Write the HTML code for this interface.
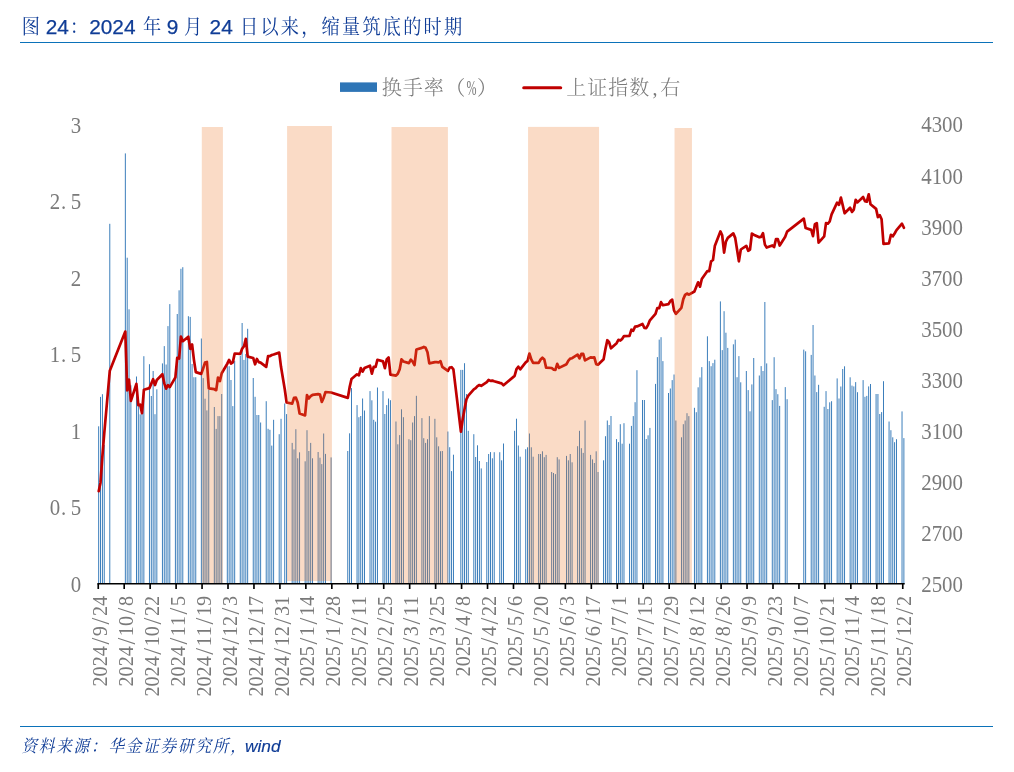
<!DOCTYPE html>
<html lang="zh-CN">
<head>
<meta charset="utf-8">
<title>图 24：2024 年 9 月 24 日以来，缩量筑底的时期</title>
<style>
html,body{margin:0;padding:0;background:#fff;}
body{width:1014px;height:772px;position:relative;overflow:hidden;font-family:"Liberation Sans","Noto Sans CJK SC",sans-serif;}
svg{display:block;}
</style>
</head>
<body>
<svg width="1014" height="772" viewBox="0 0 1014 772" style="position:absolute;left:0;top:0">
<g fill="#2e75b6">
<rect x="98.21" y="426.3" width="0.93" height="157.3"/>
<rect x="100.07" y="396.9" width="0.93" height="186.7"/>
<rect x="101.92" y="394.2" width="0.93" height="189.4"/>
<rect x="103.77" y="445.0" width="0.93" height="138.6"/>
<rect x="109.33" y="223.8" width="0.93" height="359.8"/>
<rect x="124.86" y="153.4" width="0.93" height="430.2"/>
<rect x="126.72" y="257.7" width="0.93" height="325.9"/>
<rect x="128.57" y="309.3" width="0.93" height="274.3"/>
<rect x="130.42" y="385.3" width="0.93" height="198.3"/>
<rect x="135.99" y="376.5" width="0.93" height="207.1"/>
<rect x="137.84" y="397.8" width="0.93" height="185.8"/>
<rect x="139.69" y="414.3" width="0.93" height="169.3"/>
<rect x="141.55" y="413.5" width="0.93" height="170.1"/>
<rect x="143.40" y="356.2" width="0.93" height="227.4"/>
<rect x="148.96" y="364.2" width="0.93" height="219.4"/>
<rect x="150.82" y="396.0" width="0.93" height="187.6"/>
<rect x="152.67" y="371.0" width="0.93" height="212.6"/>
<rect x="154.52" y="414.2" width="0.93" height="169.4"/>
<rect x="156.38" y="389.3" width="0.93" height="194.3"/>
<rect x="161.94" y="363.4" width="0.93" height="220.2"/>
<rect x="163.79" y="346.1" width="0.93" height="237.5"/>
<rect x="165.65" y="364.5" width="0.93" height="219.1"/>
<rect x="167.50" y="326.1" width="0.93" height="257.5"/>
<rect x="169.35" y="304.1" width="0.93" height="279.5"/>
<rect x="174.91" y="372.0" width="0.93" height="211.6"/>
<rect x="176.77" y="314.0" width="0.93" height="269.6"/>
<rect x="178.62" y="290.3" width="0.93" height="293.3"/>
<rect x="180.47" y="268.8" width="0.93" height="314.8"/>
<rect x="182.33" y="267.2" width="0.93" height="316.4"/>
<rect x="187.89" y="316.2" width="0.93" height="267.4"/>
<rect x="189.74" y="316.9" width="0.93" height="266.7"/>
<rect x="191.60" y="364.0" width="0.93" height="219.6"/>
<rect x="193.45" y="377.2" width="0.93" height="206.4"/>
<rect x="195.30" y="377.2" width="0.93" height="206.4"/>
<rect x="200.87" y="338.5" width="0.93" height="245.1"/>
<rect x="202.72" y="378.1" width="0.93" height="205.5"/>
<rect x="204.57" y="398.7" width="0.93" height="184.9"/>
<rect x="206.43" y="410.4" width="0.93" height="173.2"/>
<rect x="208.28" y="390.0" width="0.93" height="193.6"/>
<rect x="213.84" y="407.0" width="0.93" height="176.6"/>
<rect x="215.69" y="428.9" width="0.93" height="154.7"/>
<rect x="217.55" y="416.1" width="0.93" height="167.5"/>
<rect x="219.40" y="416.1" width="0.93" height="167.5"/>
<rect x="221.26" y="394.0" width="0.93" height="189.6"/>
<rect x="226.82" y="366.2" width="0.93" height="217.4"/>
<rect x="228.67" y="366.2" width="0.93" height="217.4"/>
<rect x="230.52" y="380.0" width="0.93" height="203.6"/>
<rect x="232.38" y="406.1" width="0.93" height="177.5"/>
<rect x="234.23" y="360.8" width="0.93" height="222.8"/>
<rect x="239.79" y="355.9" width="0.93" height="227.7"/>
<rect x="241.65" y="323.0" width="0.93" height="260.6"/>
<rect x="243.50" y="359.9" width="0.93" height="223.7"/>
<rect x="245.35" y="353.9" width="0.93" height="229.7"/>
<rect x="247.21" y="328.8" width="0.93" height="254.8"/>
<rect x="252.77" y="378.0" width="0.93" height="205.6"/>
<rect x="254.62" y="396.8" width="0.93" height="186.8"/>
<rect x="256.48" y="415.0" width="0.93" height="168.6"/>
<rect x="258.33" y="415.0" width="0.93" height="168.6"/>
<rect x="260.18" y="422.5" width="0.93" height="161.1"/>
<rect x="265.74" y="401.2" width="0.93" height="182.4"/>
<rect x="267.60" y="428.8" width="0.93" height="154.8"/>
<rect x="269.45" y="429.8" width="0.93" height="153.8"/>
<rect x="271.31" y="445.6" width="0.93" height="138.0"/>
<rect x="273.16" y="419.8" width="0.93" height="163.8"/>
<rect x="278.72" y="434.2" width="0.93" height="149.4"/>
<rect x="280.57" y="418.8" width="0.93" height="164.8"/>
<rect x="284.28" y="403.5" width="0.93" height="180.1"/>
<rect x="286.14" y="414.1" width="0.93" height="169.5"/>
<rect x="291.70" y="442.9" width="0.93" height="140.7"/>
<rect x="293.55" y="449.4" width="0.93" height="134.2"/>
<rect x="295.40" y="429.2" width="0.93" height="154.4"/>
<rect x="297.26" y="458.3" width="0.93" height="125.3"/>
<rect x="299.11" y="452.3" width="0.93" height="131.3"/>
<rect x="304.67" y="461.3" width="0.93" height="122.3"/>
<rect x="306.53" y="430.2" width="0.93" height="153.4"/>
<rect x="308.38" y="451.0" width="0.93" height="132.6"/>
<rect x="310.23" y="442.9" width="0.93" height="140.7"/>
<rect x="312.09" y="458.3" width="0.93" height="125.3"/>
<rect x="317.65" y="452.0" width="0.93" height="131.6"/>
<rect x="319.50" y="457.7" width="0.93" height="125.9"/>
<rect x="321.36" y="464.1" width="0.93" height="119.5"/>
<rect x="323.21" y="433.5" width="0.93" height="150.1"/>
<rect x="325.06" y="453.9" width="0.93" height="129.7"/>
<rect x="330.62" y="457.4" width="0.93" height="126.2"/>
<rect x="347.31" y="451.0" width="0.93" height="132.6"/>
<rect x="349.16" y="433.3" width="0.93" height="150.3"/>
<rect x="351.02" y="388.1" width="0.93" height="195.5"/>
<rect x="356.58" y="405.1" width="0.93" height="178.5"/>
<rect x="358.43" y="417.2" width="0.93" height="166.4"/>
<rect x="360.28" y="416.0" width="0.93" height="167.6"/>
<rect x="362.14" y="398.5" width="0.93" height="185.1"/>
<rect x="363.99" y="410.5" width="0.93" height="173.1"/>
<rect x="369.55" y="391.1" width="0.93" height="192.5"/>
<rect x="371.41" y="400.3" width="0.93" height="183.3"/>
<rect x="373.26" y="419.8" width="0.93" height="163.8"/>
<rect x="375.11" y="421.7" width="0.93" height="161.9"/>
<rect x="376.97" y="387.5" width="0.93" height="196.1"/>
<rect x="382.53" y="391.1" width="0.93" height="192.5"/>
<rect x="384.38" y="414.0" width="0.93" height="169.6"/>
<rect x="386.24" y="405.1" width="0.93" height="178.5"/>
<rect x="388.09" y="398.5" width="0.93" height="185.1"/>
<rect x="389.94" y="400.2" width="0.93" height="183.4"/>
<rect x="395.50" y="421.5" width="0.93" height="162.1"/>
<rect x="397.36" y="444.3" width="0.93" height="139.3"/>
<rect x="399.21" y="435.1" width="0.93" height="148.5"/>
<rect x="401.06" y="409.3" width="0.93" height="174.3"/>
<rect x="402.92" y="417.2" width="0.93" height="166.4"/>
<rect x="408.48" y="439.2" width="0.93" height="144.4"/>
<rect x="410.33" y="440.2" width="0.93" height="143.4"/>
<rect x="412.19" y="422.5" width="0.93" height="161.1"/>
<rect x="414.04" y="416.1" width="0.93" height="167.5"/>
<rect x="415.89" y="395.8" width="0.93" height="187.8"/>
<rect x="421.46" y="418.1" width="0.93" height="165.5"/>
<rect x="423.31" y="438.2" width="0.93" height="145.4"/>
<rect x="425.16" y="442.9" width="0.93" height="140.7"/>
<rect x="427.02" y="439.2" width="0.93" height="144.4"/>
<rect x="428.87" y="416.1" width="0.93" height="167.5"/>
<rect x="434.43" y="418.8" width="0.93" height="164.8"/>
<rect x="436.29" y="437.3" width="0.93" height="146.3"/>
<rect x="438.14" y="446.3" width="0.93" height="137.3"/>
<rect x="439.99" y="451.2" width="0.93" height="132.4"/>
<rect x="441.85" y="451.0" width="0.93" height="132.6"/>
<rect x="447.41" y="431.5" width="0.93" height="152.1"/>
<rect x="449.26" y="447.2" width="0.93" height="136.4"/>
<rect x="451.11" y="471.1" width="0.93" height="112.5"/>
<rect x="452.97" y="454.7" width="0.93" height="128.9"/>
<rect x="460.38" y="369.9" width="0.93" height="213.7"/>
<rect x="462.24" y="369.9" width="0.93" height="213.7"/>
<rect x="464.09" y="363.2" width="0.93" height="220.4"/>
<rect x="465.94" y="394.0" width="0.93" height="189.6"/>
<rect x="467.80" y="430.8" width="0.93" height="152.8"/>
<rect x="473.36" y="434.2" width="0.93" height="149.4"/>
<rect x="475.21" y="457.0" width="0.93" height="126.6"/>
<rect x="477.07" y="445.3" width="0.93" height="138.3"/>
<rect x="478.92" y="461.0" width="0.93" height="122.6"/>
<rect x="480.77" y="468.4" width="0.93" height="115.2"/>
<rect x="486.34" y="462.0" width="0.93" height="121.6"/>
<rect x="488.19" y="454.0" width="0.93" height="129.6"/>
<rect x="490.04" y="452.1" width="0.93" height="131.5"/>
<rect x="491.90" y="458.3" width="0.93" height="125.3"/>
<rect x="493.75" y="452.2" width="0.93" height="131.4"/>
<rect x="499.31" y="452.2" width="0.93" height="131.4"/>
<rect x="501.16" y="460.3" width="0.93" height="123.3"/>
<rect x="503.02" y="443.5" width="0.93" height="140.1"/>
<rect x="514.14" y="430.8" width="0.93" height="152.8"/>
<rect x="515.99" y="418.7" width="0.93" height="164.9"/>
<rect x="517.85" y="445.5" width="0.93" height="138.1"/>
<rect x="519.70" y="456.7" width="0.93" height="126.9"/>
<rect x="525.26" y="449.2" width="0.93" height="134.4"/>
<rect x="527.12" y="447.3" width="0.93" height="136.3"/>
<rect x="528.97" y="433.5" width="0.93" height="150.1"/>
<rect x="530.82" y="447.3" width="0.93" height="136.3"/>
<rect x="532.68" y="456.7" width="0.93" height="126.9"/>
<rect x="538.24" y="454.0" width="0.93" height="129.6"/>
<rect x="540.09" y="454.0" width="0.93" height="129.6"/>
<rect x="541.95" y="451.3" width="0.93" height="132.3"/>
<rect x="543.80" y="457.2" width="0.93" height="126.4"/>
<rect x="545.65" y="454.9" width="0.93" height="128.7"/>
<rect x="551.21" y="472.0" width="0.93" height="111.6"/>
<rect x="553.07" y="473.0" width="0.93" height="110.6"/>
<rect x="554.92" y="474.1" width="0.93" height="109.5"/>
<rect x="556.78" y="457.2" width="0.93" height="126.4"/>
<rect x="558.63" y="459.4" width="0.93" height="124.2"/>
<rect x="566.04" y="455.9" width="0.93" height="127.7"/>
<rect x="567.90" y="460.3" width="0.93" height="123.3"/>
<rect x="569.75" y="454.0" width="0.93" height="129.6"/>
<rect x="571.61" y="462.3" width="0.93" height="121.3"/>
<rect x="577.17" y="446.2" width="0.93" height="137.4"/>
<rect x="579.02" y="430.8" width="0.93" height="152.8"/>
<rect x="580.87" y="448.2" width="0.93" height="135.4"/>
<rect x="582.73" y="452.9" width="0.93" height="130.7"/>
<rect x="584.58" y="420.5" width="0.93" height="163.1"/>
<rect x="590.14" y="454.9" width="0.93" height="128.7"/>
<rect x="592.00" y="459.4" width="0.93" height="124.2"/>
<rect x="593.85" y="463.0" width="0.93" height="120.6"/>
<rect x="595.70" y="451.3" width="0.93" height="132.3"/>
<rect x="597.56" y="472.0" width="0.93" height="111.6"/>
<rect x="603.12" y="460.3" width="0.93" height="123.3"/>
<rect x="604.97" y="436.2" width="0.93" height="147.4"/>
<rect x="606.83" y="420.5" width="0.93" height="163.1"/>
<rect x="608.68" y="425.0" width="0.93" height="158.6"/>
<rect x="610.53" y="416.0" width="0.93" height="167.6"/>
<rect x="616.09" y="439.1" width="0.93" height="144.5"/>
<rect x="617.95" y="442.1" width="0.93" height="141.5"/>
<rect x="619.80" y="424.2" width="0.93" height="159.4"/>
<rect x="621.66" y="443.7" width="0.93" height="139.9"/>
<rect x="623.51" y="423.2" width="0.93" height="160.4"/>
<rect x="629.07" y="443.7" width="0.93" height="139.9"/>
<rect x="630.92" y="425.9" width="0.93" height="157.7"/>
<rect x="632.78" y="416.1" width="0.93" height="167.5"/>
<rect x="634.63" y="402.2" width="0.93" height="181.4"/>
<rect x="636.48" y="370.2" width="0.93" height="213.4"/>
<rect x="642.05" y="400.0" width="0.93" height="183.6"/>
<rect x="643.90" y="400.0" width="0.93" height="183.6"/>
<rect x="645.75" y="439.0" width="0.93" height="144.6"/>
<rect x="647.61" y="435.3" width="0.93" height="148.3"/>
<rect x="649.46" y="427.9" width="0.93" height="155.7"/>
<rect x="655.02" y="383.9" width="0.93" height="199.7"/>
<rect x="656.88" y="357.1" width="0.93" height="226.5"/>
<rect x="658.73" y="339.6" width="0.93" height="244.0"/>
<rect x="660.58" y="337.2" width="0.93" height="246.4"/>
<rect x="662.44" y="361.1" width="0.93" height="222.5"/>
<rect x="668.00" y="393.0" width="0.93" height="190.6"/>
<rect x="669.85" y="388.5" width="0.93" height="195.1"/>
<rect x="671.71" y="380.1" width="0.93" height="203.5"/>
<rect x="673.56" y="374.5" width="0.93" height="209.1"/>
<rect x="675.41" y="420.5" width="0.93" height="163.1"/>
<rect x="680.97" y="437.3" width="0.93" height="146.3"/>
<rect x="682.83" y="424.2" width="0.93" height="159.4"/>
<rect x="684.68" y="420.5" width="0.93" height="163.1"/>
<rect x="686.53" y="413.2" width="0.93" height="170.4"/>
<rect x="688.39" y="416.1" width="0.93" height="167.5"/>
<rect x="693.95" y="407.8" width="0.93" height="175.8"/>
<rect x="695.80" y="412.2" width="0.93" height="171.4"/>
<rect x="697.66" y="387.3" width="0.93" height="196.3"/>
<rect x="699.51" y="377.4" width="0.93" height="206.2"/>
<rect x="701.36" y="367.1" width="0.93" height="216.5"/>
<rect x="706.93" y="336.3" width="0.93" height="247.3"/>
<rect x="708.78" y="361.1" width="0.93" height="222.5"/>
<rect x="710.63" y="366.2" width="0.93" height="217.4"/>
<rect x="712.49" y="363.1" width="0.93" height="220.5"/>
<rect x="714.34" y="359.7" width="0.93" height="223.9"/>
<rect x="719.90" y="301.4" width="0.93" height="282.2"/>
<rect x="721.76" y="350.1" width="0.93" height="233.5"/>
<rect x="723.61" y="311.2" width="0.93" height="272.4"/>
<rect x="725.46" y="332.7" width="0.93" height="250.9"/>
<rect x="727.32" y="347.9" width="0.93" height="235.7"/>
<rect x="732.88" y="344.3" width="0.93" height="239.3"/>
<rect x="734.73" y="339.6" width="0.93" height="244.0"/>
<rect x="736.58" y="377.2" width="0.93" height="206.4"/>
<rect x="738.44" y="356.1" width="0.93" height="227.5"/>
<rect x="740.29" y="382.3" width="0.93" height="201.3"/>
<rect x="745.85" y="371.0" width="0.93" height="212.6"/>
<rect x="747.71" y="390.1" width="0.93" height="193.5"/>
<rect x="749.56" y="411.3" width="0.93" height="172.3"/>
<rect x="751.41" y="384.4" width="0.93" height="199.2"/>
<rect x="753.27" y="358.0" width="0.93" height="225.6"/>
<rect x="758.83" y="375.5" width="0.93" height="208.1"/>
<rect x="760.68" y="366.1" width="0.93" height="217.5"/>
<rect x="762.54" y="371.0" width="0.93" height="212.6"/>
<rect x="764.39" y="302.0" width="0.93" height="281.6"/>
<rect x="766.24" y="363.4" width="0.93" height="220.2"/>
<rect x="771.80" y="400.1" width="0.93" height="183.5"/>
<rect x="773.66" y="357.2" width="0.93" height="226.4"/>
<rect x="775.51" y="389.1" width="0.93" height="194.5"/>
<rect x="777.37" y="394.2" width="0.93" height="189.4"/>
<rect x="779.22" y="405.9" width="0.93" height="177.7"/>
<rect x="784.78" y="387.1" width="0.93" height="196.5"/>
<rect x="786.63" y="399.2" width="0.93" height="184.4"/>
<rect x="803.32" y="349.6" width="0.93" height="234.0"/>
<rect x="805.17" y="351.3" width="0.93" height="232.3"/>
<rect x="810.73" y="354.9" width="0.93" height="228.7"/>
<rect x="812.59" y="325.0" width="0.93" height="258.6"/>
<rect x="814.44" y="375.5" width="0.93" height="208.1"/>
<rect x="816.29" y="392.1" width="0.93" height="191.5"/>
<rect x="818.15" y="384.8" width="0.93" height="198.8"/>
<rect x="823.71" y="406.8" width="0.93" height="176.8"/>
<rect x="825.56" y="391.1" width="0.93" height="192.5"/>
<rect x="827.42" y="409.0" width="0.93" height="174.6"/>
<rect x="829.27" y="402.3" width="0.93" height="181.3"/>
<rect x="831.12" y="401.2" width="0.93" height="182.4"/>
<rect x="836.68" y="378.4" width="0.93" height="205.2"/>
<rect x="838.54" y="398.5" width="0.93" height="185.1"/>
<rect x="840.39" y="386.5" width="0.93" height="197.1"/>
<rect x="842.25" y="369.0" width="0.93" height="214.6"/>
<rect x="844.10" y="366.3" width="0.93" height="217.3"/>
<rect x="849.66" y="377.3" width="0.93" height="206.3"/>
<rect x="851.51" y="385.6" width="0.93" height="198.0"/>
<rect x="853.37" y="386.4" width="0.93" height="197.2"/>
<rect x="855.22" y="382.1" width="0.93" height="201.5"/>
<rect x="857.08" y="392.2" width="0.93" height="191.4"/>
<rect x="862.64" y="380.1" width="0.93" height="203.5"/>
<rect x="864.49" y="396.8" width="0.93" height="186.8"/>
<rect x="866.34" y="395.9" width="0.93" height="187.7"/>
<rect x="868.20" y="386.4" width="0.93" height="197.2"/>
<rect x="870.05" y="384.0" width="0.93" height="199.6"/>
<rect x="875.61" y="394.0" width="0.93" height="189.6"/>
<rect x="877.47" y="394.0" width="0.93" height="189.6"/>
<rect x="879.32" y="414.0" width="0.93" height="169.6"/>
<rect x="881.17" y="412.1" width="0.93" height="171.5"/>
<rect x="883.03" y="381.2" width="0.93" height="202.4"/>
<rect x="888.59" y="421.5" width="0.93" height="162.1"/>
<rect x="890.44" y="430.2" width="0.93" height="153.4"/>
<rect x="892.30" y="437.3" width="0.93" height="146.3"/>
<rect x="894.15" y="442.2" width="0.93" height="141.4"/>
<rect x="896.00" y="439.2" width="0.93" height="144.4"/>
<rect x="901.56" y="411.4" width="0.93" height="172.2"/>
<rect x="903.42" y="438.1" width="0.93" height="145.5"/>
</g>
<g stroke="#000" stroke-width="1.65" fill="none">
<line x1="97.35" y1="583.75" x2="904.7" y2="583.75"/>
<line x1="98.25" y1="583.75" x2="98.25" y2="589.0"/>
<line x1="124.20" y1="583.75" x2="124.20" y2="589.0"/>
<line x1="150.15" y1="583.75" x2="150.15" y2="589.0"/>
<line x1="176.11" y1="583.75" x2="176.11" y2="589.0"/>
<line x1="202.06" y1="583.75" x2="202.06" y2="589.0"/>
<line x1="228.01" y1="583.75" x2="228.01" y2="589.0"/>
<line x1="253.96" y1="583.75" x2="253.96" y2="589.0"/>
<line x1="279.91" y1="583.75" x2="279.91" y2="589.0"/>
<line x1="305.86" y1="583.75" x2="305.86" y2="589.0"/>
<line x1="331.82" y1="583.75" x2="331.82" y2="589.0"/>
<line x1="357.77" y1="583.75" x2="357.77" y2="589.0"/>
<line x1="383.72" y1="583.75" x2="383.72" y2="589.0"/>
<line x1="409.67" y1="583.75" x2="409.67" y2="589.0"/>
<line x1="435.62" y1="583.75" x2="435.62" y2="589.0"/>
<line x1="461.58" y1="583.75" x2="461.58" y2="589.0"/>
<line x1="487.53" y1="583.75" x2="487.53" y2="589.0"/>
<line x1="513.48" y1="583.75" x2="513.48" y2="589.0"/>
<line x1="539.43" y1="583.75" x2="539.43" y2="589.0"/>
<line x1="565.38" y1="583.75" x2="565.38" y2="589.0"/>
<line x1="591.33" y1="583.75" x2="591.33" y2="589.0"/>
<line x1="617.29" y1="583.75" x2="617.29" y2="589.0"/>
<line x1="643.24" y1="583.75" x2="643.24" y2="589.0"/>
<line x1="669.19" y1="583.75" x2="669.19" y2="589.0"/>
<line x1="695.14" y1="583.75" x2="695.14" y2="589.0"/>
<line x1="721.09" y1="583.75" x2="721.09" y2="589.0"/>
<line x1="747.04" y1="583.75" x2="747.04" y2="589.0"/>
<line x1="773.00" y1="583.75" x2="773.00" y2="589.0"/>
<line x1="798.95" y1="583.75" x2="798.95" y2="589.0"/>
<line x1="824.90" y1="583.75" x2="824.90" y2="589.0"/>
<line x1="850.85" y1="583.75" x2="850.85" y2="589.0"/>
<line x1="876.80" y1="583.75" x2="876.80" y2="589.0"/>
<line x1="902.76" y1="583.75" x2="902.76" y2="589.0"/>
</g>
<polyline points="98.7,491.2 100.5,482.7 102.4,456.1 104.2,434.0 109.8,370.7 125.3,331.6 127.2,390.4 129.0,379.5 130.9,400.9 136.4,383.9 138.3,405.1 140.2,404.7 142.0,413.2 143.9,389.7 149.4,388.1 151.3,383.6 153.1,379.2 155.0,385.0 156.8,380.0 162.4,374.3 164.3,383.4 166.1,388.6 168.0,385.1 169.8,387.1 175.4,377.4 177.2,357.8 179.1,358.6 180.9,336.5 182.8,341.2 188.3,336.7 190.2,348.9 192.1,344.5 193.9,359.6 195.8,372.1 201.3,373.9 203.2,368.2 205.0,362.6 206.9,362.0 208.8,388.3 214.3,389.2 216.2,390.2 218.0,377.5 219.9,381.1 221.7,373.2 227.3,363.7 229.1,359.9 231.0,363.5 232.8,362.4 234.7,353.5 240.3,353.9 242.1,348.7 244.0,346.2 245.8,338.8 247.7,356.6 253.2,358.0 255.1,364.3 256.9,359.0 258.8,362.1 260.6,362.6 266.2,366.9 268.1,356.1 269.9,356.2 271.8,355.0 273.6,354.5 279.2,352.6 281.0,366.8 284.8,389.5 286.6,402.5 292.2,403.6 294.0,397.9 295.9,397.7 297.7,402.5 299.6,413.4 305.1,415.4 307.0,395.0 308.8,398.5 310.7,396.2 312.6,394.8 318.1,394.1 320.0,394.6 321.8,401.9 323.7,397.7 325.5,392.0 331.1,392.5 347.8,397.9 349.6,387.4 351.5,379.0 357.0,374.3 358.9,375.4 360.8,368.1 362.6,371.7 364.5,368.1 370.0,365.7 371.9,373.7 373.7,366.8 375.6,367.0 377.4,359.8 383.0,361.4 384.9,368.2 386.7,359.5 388.6,357.5 390.4,374.6 396.0,375.6 397.8,373.8 399.7,369.3 401.5,359.3 403.4,361.5 408.9,363.1 410.8,359.6 412.6,361.6 414.5,365.0 416.4,349.5 421.9,347.9 423.8,346.9 425.6,347.8 427.5,352.2 429.3,363.4 434.9,362.1 436.8,362.1 438.6,362.5 440.5,361.2 442.3,366.9 447.9,370.9 449.7,367.6 451.6,367.2 453.4,369.3 460.9,431.7 462.7,419.3 464.6,408.8 466.4,399.4 468.3,395.7 473.8,389.4 475.7,388.2 477.5,386.1 479.4,385.0 481.2,385.9 486.8,382.1 488.6,380.0 490.5,380.9 492.4,380.6 494.2,381.2 499.8,382.9 501.6,383.4 503.5,385.3 514.6,375.9 516.5,369.1 518.3,366.7 520.2,369.3 525.7,362.3 527.6,360.9 529.4,353.5 531.3,359.4 533.1,362.8 538.7,362.8 540.6,359.5 542.4,357.7 544.3,359.5 546.1,367.6 551.7,368.0 553.5,369.6 555.4,369.8 557.2,363.8 559.1,367.9 566.5,364.2 568.4,360.6 570.2,358.6 572.1,358.2 577.6,354.6 579.5,358.4 581.3,353.9 583.2,353.8 585.0,360.4 590.6,357.4 592.5,357.7 594.3,357.4 596.2,364.1 598.0,364.7 603.6,359.2 605.4,349.3 607.3,340.2 609.1,342.2 611.0,348.3 616.6,343.2 618.4,339.8 620.3,340.6 622.1,338.9 624.0,336.1 629.5,335.9 631.4,329.7 633.2,330.8 635.1,326.6 637.0,326.4 642.5,324.0 644.4,327.8 646.2,328.1 648.1,324.8 649.9,320.3 655.5,313.8 657.3,308.2 659.2,308.1 661.0,302.1 662.9,305.2 668.5,304.1 670.3,301.1 672.2,299.6 674.0,310.4 675.9,313.8 681.4,307.8 683.3,299.1 685.1,294.9 687.0,293.5 688.9,294.6 694.4,291.5 696.3,286.8 698.1,282.3 700.0,286.7 701.8,279.0 707.4,271.0 709.2,271.2 711.1,261.3 713.0,260.0 714.8,246.1 720.4,231.4 722.2,235.3 724.1,252.6 725.9,241.6 727.8,237.9 733.3,233.4 735.2,237.9 737.0,249.2 738.9,261.4 740.8,249.5 746.3,245.8 748.2,250.8 750.0,249.6 751.9,233.5 753.7,234.7 759.3,237.3 761.1,236.9 763.0,233.2 764.9,244.6 766.7,247.6 772.3,245.4 774.1,247.1 776.0,239.0 777.8,239.1 779.7,245.5 785.2,236.8 787.1,231.6 803.8,218.6 805.6,228.0 811.2,229.9 813.0,236.1 814.9,224.1 816.8,223.1 818.6,242.6 824.2,236.4 826.0,223.1 827.9,223.7 829.7,221.5 831.6,214.4 837.1,202.6 839.0,204.8 840.9,197.6 842.7,205.1 844.6,213.3 850.1,207.7 852.0,211.9 853.8,209.6 855.7,199.8 857.5,202.4 863.1,197.0 865.0,201.1 866.8,201.7 868.7,194.3 870.5,204.2 876.1,208.9 877.9,217.1 879.8,215.3 881.6,219.3 883.5,243.8 889.0,243.3 890.9,234.8 892.8,236.3 894.6,233.5 896.5,230.1 902.0,223.7 903.9,227.8" fill="none" stroke="#c00000" stroke-width="2.7" stroke-linejoin="round" stroke-linecap="round"/>
<g fill="#ed7d31" fill-opacity="0.28">
<rect x="201.8" y="127.0" width="21.1" height="456.0"/>
<rect x="287.1" y="126.0" width="44.8" height="455.0"/>
<rect x="391.5" y="127.0" width="56.4" height="456.0"/>
<rect x="528.05" y="126.9" width="71.0" height="456.1"/>
<rect x="674.55" y="128.0" width="17.4" height="455.0"/>
</g>
<g fill="#7a7a7a" font-family="'Liberation Serif', 'Noto Serif CJK SC', serif" font-weight="300">
<text transform="translate(70.66,592.0) scale(0.9239,1)" font-size="22.6"><tspan x="0.00" y="0">0</tspan></text>
<text transform="translate(49.78,515.4) scale(0.9239,1)" font-size="22.6"><tspan x="0.00 12.20 22.60" y="0">0.5</tspan></text>
<text transform="translate(70.66,438.8) scale(0.9239,1)" font-size="22.6"><tspan x="0.00" y="0">1</tspan></text>
<text transform="translate(49.78,362.2) scale(0.9239,1)" font-size="22.6"><tspan x="0.00 12.20 22.60" y="0">1.5</tspan></text>
<text transform="translate(70.66,285.6) scale(0.9239,1)" font-size="22.6"><tspan x="0.00" y="0">2</tspan></text>
<text transform="translate(49.78,209.1) scale(0.9239,1)" font-size="22.6"><tspan x="0.00 12.20 22.60" y="0">2.5</tspan></text>
<text transform="translate(70.66,132.5) scale(0.9239,1)" font-size="22.6"><tspan x="0.00" y="0">3</tspan></text>
<text transform="translate(921.20,592.1) scale(0.9239,1)" font-size="22.6"><tspan x="0.00 11.30 22.60 33.90" y="0">2500</tspan></text>
<text transform="translate(921.20,541.0) scale(0.9239,1)" font-size="22.6"><tspan x="0.00 11.30 22.60 33.90" y="0">2700</tspan></text>
<text transform="translate(921.20,489.9) scale(0.9239,1)" font-size="22.6"><tspan x="0.00 11.30 22.60 33.90" y="0">2900</tspan></text>
<text transform="translate(921.20,438.8) scale(0.9239,1)" font-size="22.6"><tspan x="0.00 11.30 22.60 33.90" y="0">3100</tspan></text>
<text transform="translate(921.20,387.8) scale(0.9239,1)" font-size="22.6"><tspan x="0.00 11.30 22.60 33.90" y="0">3300</tspan></text>
<text transform="translate(921.20,336.7) scale(0.9239,1)" font-size="22.6"><tspan x="0.00 11.30 22.60 33.90" y="0">3500</tspan></text>
<text transform="translate(921.20,285.6) scale(0.9239,1)" font-size="22.6"><tspan x="0.00 11.30 22.60 33.90" y="0">3700</tspan></text>
<text transform="translate(921.20,234.6) scale(0.9239,1)" font-size="22.6"><tspan x="0.00 11.30 22.60 33.90" y="0">3900</tspan></text>
<text transform="translate(921.20,183.5) scale(0.9239,1)" font-size="22.6"><tspan x="0.00 11.30 22.60 33.90" y="0">4100</tspan></text>
<text transform="translate(921.20,132.4) scale(0.9239,1)" font-size="22.6"><tspan x="0.00 11.30 22.60 33.90" y="0">4300</tspan></text>
<text transform="translate(106.85,595.9) rotate(-90) translate(-90.54,0) scale(0.9581,1)" font-size="21"><tspan x="0.00 10.50 21.00 31.50" y="0">2024</tspan><tspan x="43.69" y="2.10" font-size="25.62">/</tspan><tspan x="52.50" y="0">9</tspan><tspan x="64.69" y="2.10" font-size="25.62">/</tspan><tspan x="73.50 84.00" y="0">24</tspan></text>
<text transform="translate(132.80,595.9) rotate(-90) translate(-90.54,0) scale(0.9581,1)" font-size="21"><tspan x="0.00 10.50 21.00 31.50" y="0">2024</tspan><tspan x="43.69" y="2.10" font-size="25.62">/</tspan><tspan x="52.50 63.00" y="0">10</tspan><tspan x="75.19" y="2.10" font-size="25.62">/</tspan><tspan x="84.00" y="0">8</tspan></text>
<text transform="translate(158.75,595.9) rotate(-90) translate(-100.60,0) scale(0.9581,1)" font-size="21"><tspan x="0.00 10.50 21.00 31.50" y="0">2024</tspan><tspan x="43.69" y="2.10" font-size="25.62">/</tspan><tspan x="52.50 63.00" y="0">10</tspan><tspan x="75.19" y="2.10" font-size="25.62">/</tspan><tspan x="84.00 94.50" y="0">22</tspan></text>
<text transform="translate(184.71,595.9) rotate(-90) translate(-90.54,0) scale(0.9581,1)" font-size="21"><tspan x="0.00 10.50 21.00 31.50" y="0">2024</tspan><tspan x="43.69" y="2.10" font-size="25.62">/</tspan><tspan x="52.50 63.00" y="0">11</tspan><tspan x="75.19" y="2.10" font-size="25.62">/</tspan><tspan x="84.00" y="0">5</tspan></text>
<text transform="translate(210.66,595.9) rotate(-90) translate(-100.60,0) scale(0.9581,1)" font-size="21"><tspan x="0.00 10.50 21.00 31.50" y="0">2024</tspan><tspan x="43.69" y="2.10" font-size="25.62">/</tspan><tspan x="52.50 63.00" y="0">11</tspan><tspan x="75.19" y="2.10" font-size="25.62">/</tspan><tspan x="84.00 94.50" y="0">19</tspan></text>
<text transform="translate(236.61,595.9) rotate(-90) translate(-90.54,0) scale(0.9581,1)" font-size="21"><tspan x="0.00 10.50 21.00 31.50" y="0">2024</tspan><tspan x="43.69" y="2.10" font-size="25.62">/</tspan><tspan x="52.50 63.00" y="0">12</tspan><tspan x="75.19" y="2.10" font-size="25.62">/</tspan><tspan x="84.00" y="0">3</tspan></text>
<text transform="translate(262.56,595.9) rotate(-90) translate(-100.60,0) scale(0.9581,1)" font-size="21"><tspan x="0.00 10.50 21.00 31.50" y="0">2024</tspan><tspan x="43.69" y="2.10" font-size="25.62">/</tspan><tspan x="52.50 63.00" y="0">12</tspan><tspan x="75.19" y="2.10" font-size="25.62">/</tspan><tspan x="84.00 94.50" y="0">17</tspan></text>
<text transform="translate(288.51,595.9) rotate(-90) translate(-100.60,0) scale(0.9581,1)" font-size="21"><tspan x="0.00 10.50 21.00 31.50" y="0">2024</tspan><tspan x="43.69" y="2.10" font-size="25.62">/</tspan><tspan x="52.50 63.00" y="0">12</tspan><tspan x="75.19" y="2.10" font-size="25.62">/</tspan><tspan x="84.00 94.50" y="0">31</tspan></text>
<text transform="translate(314.46,595.9) rotate(-90) translate(-90.54,0) scale(0.9581,1)" font-size="21"><tspan x="0.00 10.50 21.00 31.50" y="0">2025</tspan><tspan x="43.69" y="2.10" font-size="25.62">/</tspan><tspan x="52.50" y="0">1</tspan><tspan x="64.69" y="2.10" font-size="25.62">/</tspan><tspan x="73.50 84.00" y="0">14</tspan></text>
<text transform="translate(340.42,595.9) rotate(-90) translate(-90.54,0) scale(0.9581,1)" font-size="21"><tspan x="0.00 10.50 21.00 31.50" y="0">2025</tspan><tspan x="43.69" y="2.10" font-size="25.62">/</tspan><tspan x="52.50" y="0">1</tspan><tspan x="64.69" y="2.10" font-size="25.62">/</tspan><tspan x="73.50 84.00" y="0">28</tspan></text>
<text transform="translate(366.37,595.9) rotate(-90) translate(-90.54,0) scale(0.9581,1)" font-size="21"><tspan x="0.00 10.50 21.00 31.50" y="0">2025</tspan><tspan x="43.69" y="2.10" font-size="25.62">/</tspan><tspan x="52.50" y="0">2</tspan><tspan x="64.69" y="2.10" font-size="25.62">/</tspan><tspan x="73.50 84.00" y="0">11</tspan></text>
<text transform="translate(392.32,595.9) rotate(-90) translate(-90.54,0) scale(0.9581,1)" font-size="21"><tspan x="0.00 10.50 21.00 31.50" y="0">2025</tspan><tspan x="43.69" y="2.10" font-size="25.62">/</tspan><tspan x="52.50" y="0">2</tspan><tspan x="64.69" y="2.10" font-size="25.62">/</tspan><tspan x="73.50 84.00" y="0">25</tspan></text>
<text transform="translate(418.27,595.9) rotate(-90) translate(-90.54,0) scale(0.9581,1)" font-size="21"><tspan x="0.00 10.50 21.00 31.50" y="0">2025</tspan><tspan x="43.69" y="2.10" font-size="25.62">/</tspan><tspan x="52.50" y="0">3</tspan><tspan x="64.69" y="2.10" font-size="25.62">/</tspan><tspan x="73.50 84.00" y="0">11</tspan></text>
<text transform="translate(444.22,595.9) rotate(-90) translate(-90.54,0) scale(0.9581,1)" font-size="21"><tspan x="0.00 10.50 21.00 31.50" y="0">2025</tspan><tspan x="43.69" y="2.10" font-size="25.62">/</tspan><tspan x="52.50" y="0">3</tspan><tspan x="64.69" y="2.10" font-size="25.62">/</tspan><tspan x="73.50 84.00" y="0">25</tspan></text>
<text transform="translate(470.18,595.9) rotate(-90) translate(-80.48,0) scale(0.9581,1)" font-size="21"><tspan x="0.00 10.50 21.00 31.50" y="0">2025</tspan><tspan x="43.69" y="2.10" font-size="25.62">/</tspan><tspan x="52.50" y="0">4</tspan><tspan x="64.69" y="2.10" font-size="25.62">/</tspan><tspan x="73.50" y="0">8</tspan></text>
<text transform="translate(496.13,595.9) rotate(-90) translate(-90.54,0) scale(0.9581,1)" font-size="21"><tspan x="0.00 10.50 21.00 31.50" y="0">2025</tspan><tspan x="43.69" y="2.10" font-size="25.62">/</tspan><tspan x="52.50" y="0">4</tspan><tspan x="64.69" y="2.10" font-size="25.62">/</tspan><tspan x="73.50 84.00" y="0">22</tspan></text>
<text transform="translate(522.08,595.9) rotate(-90) translate(-80.48,0) scale(0.9581,1)" font-size="21"><tspan x="0.00 10.50 21.00 31.50" y="0">2025</tspan><tspan x="43.69" y="2.10" font-size="25.62">/</tspan><tspan x="52.50" y="0">5</tspan><tspan x="64.69" y="2.10" font-size="25.62">/</tspan><tspan x="73.50" y="0">6</tspan></text>
<text transform="translate(548.03,595.9) rotate(-90) translate(-90.54,0) scale(0.9581,1)" font-size="21"><tspan x="0.00 10.50 21.00 31.50" y="0">2025</tspan><tspan x="43.69" y="2.10" font-size="25.62">/</tspan><tspan x="52.50" y="0">5</tspan><tspan x="64.69" y="2.10" font-size="25.62">/</tspan><tspan x="73.50 84.00" y="0">20</tspan></text>
<text transform="translate(573.98,595.9) rotate(-90) translate(-80.48,0) scale(0.9581,1)" font-size="21"><tspan x="0.00 10.50 21.00 31.50" y="0">2025</tspan><tspan x="43.69" y="2.10" font-size="25.62">/</tspan><tspan x="52.50" y="0">6</tspan><tspan x="64.69" y="2.10" font-size="25.62">/</tspan><tspan x="73.50" y="0">3</tspan></text>
<text transform="translate(599.93,595.9) rotate(-90) translate(-90.54,0) scale(0.9581,1)" font-size="21"><tspan x="0.00 10.50 21.00 31.50" y="0">2025</tspan><tspan x="43.69" y="2.10" font-size="25.62">/</tspan><tspan x="52.50" y="0">6</tspan><tspan x="64.69" y="2.10" font-size="25.62">/</tspan><tspan x="73.50 84.00" y="0">17</tspan></text>
<text transform="translate(625.89,595.9) rotate(-90) translate(-80.48,0) scale(0.9581,1)" font-size="21"><tspan x="0.00 10.50 21.00 31.50" y="0">2025</tspan><tspan x="43.69" y="2.10" font-size="25.62">/</tspan><tspan x="52.50" y="0">7</tspan><tspan x="64.69" y="2.10" font-size="25.62">/</tspan><tspan x="73.50" y="0">1</tspan></text>
<text transform="translate(651.84,595.9) rotate(-90) translate(-90.54,0) scale(0.9581,1)" font-size="21"><tspan x="0.00 10.50 21.00 31.50" y="0">2025</tspan><tspan x="43.69" y="2.10" font-size="25.62">/</tspan><tspan x="52.50" y="0">7</tspan><tspan x="64.69" y="2.10" font-size="25.62">/</tspan><tspan x="73.50 84.00" y="0">15</tspan></text>
<text transform="translate(677.79,595.9) rotate(-90) translate(-90.54,0) scale(0.9581,1)" font-size="21"><tspan x="0.00 10.50 21.00 31.50" y="0">2025</tspan><tspan x="43.69" y="2.10" font-size="25.62">/</tspan><tspan x="52.50" y="0">7</tspan><tspan x="64.69" y="2.10" font-size="25.62">/</tspan><tspan x="73.50 84.00" y="0">29</tspan></text>
<text transform="translate(703.74,595.9) rotate(-90) translate(-90.54,0) scale(0.9581,1)" font-size="21"><tspan x="0.00 10.50 21.00 31.50" y="0">2025</tspan><tspan x="43.69" y="2.10" font-size="25.62">/</tspan><tspan x="52.50" y="0">8</tspan><tspan x="64.69" y="2.10" font-size="25.62">/</tspan><tspan x="73.50 84.00" y="0">12</tspan></text>
<text transform="translate(729.69,595.9) rotate(-90) translate(-90.54,0) scale(0.9581,1)" font-size="21"><tspan x="0.00 10.50 21.00 31.50" y="0">2025</tspan><tspan x="43.69" y="2.10" font-size="25.62">/</tspan><tspan x="52.50" y="0">8</tspan><tspan x="64.69" y="2.10" font-size="25.62">/</tspan><tspan x="73.50 84.00" y="0">26</tspan></text>
<text transform="translate(755.64,595.9) rotate(-90) translate(-80.48,0) scale(0.9581,1)" font-size="21"><tspan x="0.00 10.50 21.00 31.50" y="0">2025</tspan><tspan x="43.69" y="2.10" font-size="25.62">/</tspan><tspan x="52.50" y="0">9</tspan><tspan x="64.69" y="2.10" font-size="25.62">/</tspan><tspan x="73.50" y="0">9</tspan></text>
<text transform="translate(781.60,595.9) rotate(-90) translate(-90.54,0) scale(0.9581,1)" font-size="21"><tspan x="0.00 10.50 21.00 31.50" y="0">2025</tspan><tspan x="43.69" y="2.10" font-size="25.62">/</tspan><tspan x="52.50" y="0">9</tspan><tspan x="64.69" y="2.10" font-size="25.62">/</tspan><tspan x="73.50 84.00" y="0">23</tspan></text>
<text transform="translate(807.55,595.9) rotate(-90) translate(-90.54,0) scale(0.9581,1)" font-size="21"><tspan x="0.00 10.50 21.00 31.50" y="0">2025</tspan><tspan x="43.69" y="2.10" font-size="25.62">/</tspan><tspan x="52.50 63.00" y="0">10</tspan><tspan x="75.19" y="2.10" font-size="25.62">/</tspan><tspan x="84.00" y="0">7</tspan></text>
<text transform="translate(833.50,595.9) rotate(-90) translate(-100.60,0) scale(0.9581,1)" font-size="21"><tspan x="0.00 10.50 21.00 31.50" y="0">2025</tspan><tspan x="43.69" y="2.10" font-size="25.62">/</tspan><tspan x="52.50 63.00" y="0">10</tspan><tspan x="75.19" y="2.10" font-size="25.62">/</tspan><tspan x="84.00 94.50" y="0">21</tspan></text>
<text transform="translate(859.45,595.9) rotate(-90) translate(-90.54,0) scale(0.9581,1)" font-size="21"><tspan x="0.00 10.50 21.00 31.50" y="0">2025</tspan><tspan x="43.69" y="2.10" font-size="25.62">/</tspan><tspan x="52.50 63.00" y="0">11</tspan><tspan x="75.19" y="2.10" font-size="25.62">/</tspan><tspan x="84.00" y="0">4</tspan></text>
<text transform="translate(885.40,595.9) rotate(-90) translate(-100.60,0) scale(0.9581,1)" font-size="21"><tspan x="0.00 10.50 21.00 31.50" y="0">2025</tspan><tspan x="43.69" y="2.10" font-size="25.62">/</tspan><tspan x="52.50 63.00" y="0">11</tspan><tspan x="75.19" y="2.10" font-size="25.62">/</tspan><tspan x="84.00 94.50" y="0">18</tspan></text>
<text transform="translate(911.36,595.9) rotate(-90) translate(-90.54,0) scale(0.9581,1)" font-size="21"><tspan x="0.00 10.50 21.00 31.50" y="0">2025</tspan><tspan x="43.69" y="2.10" font-size="25.62">/</tspan><tspan x="52.50 63.00" y="0">12</tspan><tspan x="75.19" y="2.10" font-size="25.62">/</tspan><tspan x="84.00" y="0">2</tspan></text>
<text y="94.5" font-size="20"><tspan x="381.8 402.8 423.8 445.2">换手率（</tspan><tspan x="466.5" textLength="10" lengthAdjust="spacingAndGlyphs">%</tspan><tspan x="477">）</tspan></text>
<text y="94.5" font-size="20" x="566.2 587.2 608.2 629.2 652.5 660.3">上证指数,右</text>
</g>
<rect x="340" y="82.4" width="37" height="9.5" fill="#2e75b6"/>
<line x1="523.7" y1="87.7" x2="560.7" y2="87.7" stroke="#c00000" stroke-width="3" stroke-linecap="round"/>
<text y="34.0" font-size="20.2" fill="#0f3c96" ><tspan x="21.71" font-family="'Noto Serif CJK SC', 'Liberation Serif', serif" letter-spacing="2.47" textLength="20.40" lengthAdjust="spacingAndGlyphs">图</tspan> <tspan x="45.8" font-family="'Liberation Sans', 'Noto Sans CJK SC', sans-serif" font-size="20.8" stroke="#0f3c96" stroke-width="0.25">24</tspan><tspan x="69.91" font-family="'Noto Serif CJK SC', 'Liberation Serif', serif" letter-spacing="2.47" textLength="20.40" lengthAdjust="spacingAndGlyphs">：</tspan><tspan x="89.2" font-family="'Liberation Sans', 'Noto Sans CJK SC', sans-serif" font-size="20.8" stroke="#0f3c96" stroke-width="0.25">2024</tspan> <tspan x="143.01" font-family="'Noto Serif CJK SC', 'Liberation Serif', serif" letter-spacing="2.47" textLength="20.40" lengthAdjust="spacingAndGlyphs">年</tspan> <tspan x="166.7" font-family="'Liberation Sans', 'Noto Sans CJK SC', sans-serif" font-size="20.8" stroke="#0f3c96" stroke-width="0.25">9</tspan> <tspan x="184.01" font-family="'Noto Serif CJK SC', 'Liberation Serif', serif" letter-spacing="2.47" textLength="20.40" lengthAdjust="spacingAndGlyphs">月</tspan> <tspan x="209.6" font-family="'Liberation Sans', 'Noto Sans CJK SC', sans-serif" font-size="20.8" stroke="#0f3c96" stroke-width="0.25">24</tspan> <tspan x="240.01" font-family="'Noto Serif CJK SC', 'Liberation Serif', serif" letter-spacing="2.47" textLength="224.40" lengthAdjust="spacingAndGlyphs">日以来，缩量筑底的时期</tspan></text>
<text y="751.6" font-size="17.3" fill="#0f3c96" font-style="italic"><tspan x="21.41" font-family="'Noto Serif CJK SC', 'Liberation Serif', serif" letter-spacing="2.03" textLength="226.20" lengthAdjust="spacingAndGlyphs">资料来源：华金证券研究所，</tspan><tspan x="245.0" font-family="'Liberation Sans', 'Noto Sans CJK SC', sans-serif" stroke="#0f3c96" stroke-width="0.15">wind</tspan></text>
<rect x="20" y="42" width="973" height="1" fill="#0b72b9"/>
<rect x="20" y="726" width="973" height="1" fill="#0b72b9"/>
</svg>
</body>
</html>
